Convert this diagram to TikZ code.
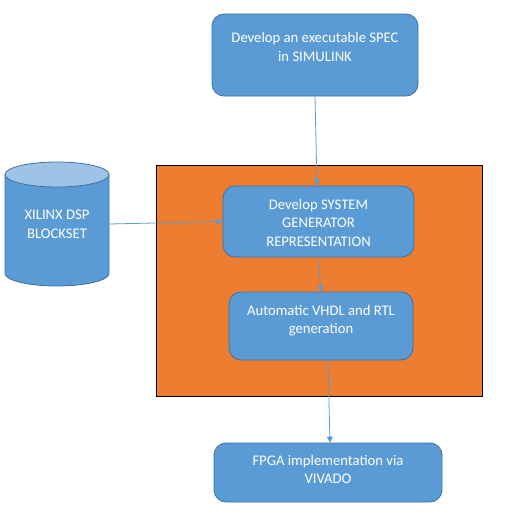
\documentclass[tikz,border=0pt]{standalone}
\usepackage{fontspec}
\setmainfont{Carlito}
\usetikzlibrary{arrows.meta}
\definecolor{boxblue}{HTML}{5B9BD5}
\definecolor{boxedge}{HTML}{41719C}
\definecolor{captop}{HTML}{9DC3E6}
\definecolor{flowbg}{HTML}{ED7D31}

% width, height, first baseline, lines
\newcommand{\boxlines}[4]{\parbox[c][#2][t]{#1}{\centering\rule{0pt}{#3}#4}}

\begin{document}
\begin{tikzpicture}[x=1pt,y=-1pt,
  stepbox/.style={draw=boxedge,fill=boxblue,rounded corners=12pt,line width=0.8pt,
    text=white,inner sep=0pt,font=\fontsize{14.67}{18.7}\selectfont},
  flow/.style={boxblue,line width=0.8pt,-{Triangle[width=6pt,length=6pt]}}]

\useasboundingbox (0,0) rectangle (508,519);

% orange frame round the generator steps
\node[draw=black,fill=flowbg,line width=0.9pt,minimum width=326pt,minimum height=231pt,
  inner sep=0pt] (sysframe) at (319,280.5) {};

% blockset drum
\draw[boxedge,fill=boxblue,line width=0.8pt] (5,174.5) -- (5,273.5)
  arc[start angle=180,end angle=0,x radius=52,y radius=12.5] -- (109,174.5);
\draw[boxedge,fill=captop,line width=0.8pt] (57,174.5) ellipse[x radius=52,y radius=12.5];
\node[text=white,align=center,minimum width=104pt,inner sep=0pt,
  font=\fontsize{14.67}{18.7}\selectfont] (dsp) at (57,224) {XILINX DSP\\BLOCKSET};

% steps
\node[stepbox] (spec) at (315,55)
  {\boxlines{206pt}{82pt}{29pt}{Develop an executable SPEC\\in SIMULINK}};
\node[stepbox] (sysgen) at (318.5,221.5)
  {\boxlines{191pt}{71pt}{23pt}{Develop SYSTEM\\GENERATOR\\REPRESENTATION}};
\node[stepbox] (vhdl) at (321,326)
  {\boxlines{184pt}{68pt}{23pt}{Automatic VHDL and RTL\\generation}};
\node[stepbox] (vivado) at (328,472.5)
  {\boxlines{228pt}{59pt}{22pt}{FPGA implementation via\\VIVADO}};

% connectors
\draw[flow] (spec.south) -- ([xshift=2pt]spec.south |- sysgen.north);
\draw[flow] (dsp.east) -- (sysgen.west);
\draw[flow] ([yshift=-4pt]sysgen.south) -- (vhdl.north);
\draw[flow] ([xshift=7pt]vhdl.south) -- ([xshift=2pt]vivado.north);

\end{tikzpicture}
\end{document}
